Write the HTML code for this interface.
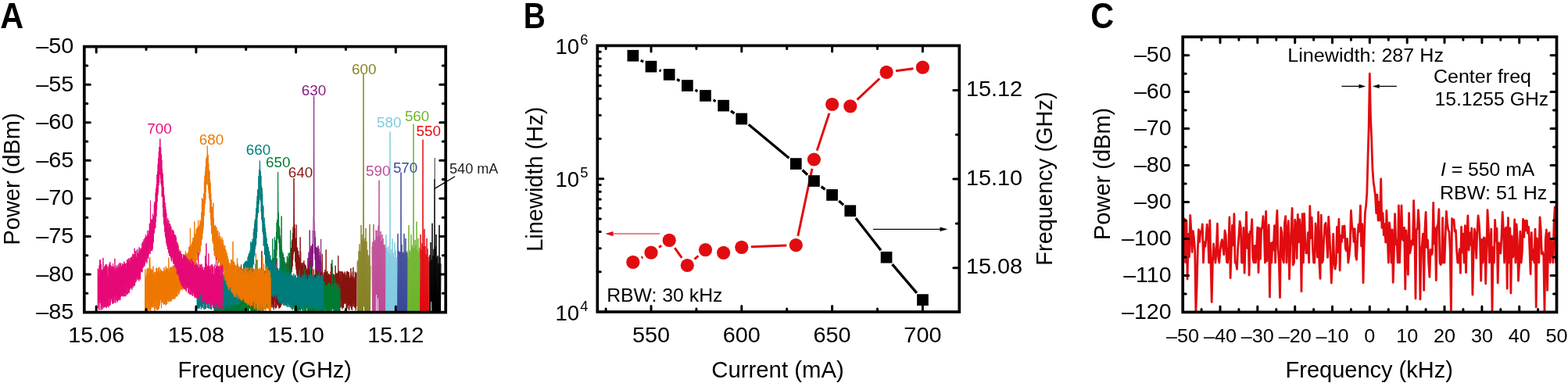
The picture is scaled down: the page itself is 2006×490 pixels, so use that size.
<!DOCTYPE html>
<html><head><meta charset="utf-8"><title>Figure</title>
<style>html,body{margin:0;padding:0;background:#fff;overflow:hidden;}svg{display:block;}text{font-family:'Liberation Sans', Arial, Helvetica, sans-serif;}</style>
</head><body>
<svg width="2006" height="490" viewBox="0 0 2006 490">
<rect width="2006" height="490" fill="#fff"/>
<clipPath id="ca"><rect x="107.8" y="59.6" width="462.40000000000003" height="340.0"/></clipPath>
<g clip-path="url(#ca)">
<polyline points="549,334.7 549.5,401.6 550,326.3 550.5,401.6 551,310 551.5,385.6 552,332.6 552.5,401.6 553,285.7 553.5,401.6 554,327.3 554.5,401.6 555,318.7 555.5,401.6 556,229 556.5,401.6 557,315.5 557.5,401.6 558,300 558.5,401.6 559,329.2 559.5,401.6 560,327.2 560.5,401.6 561,337.1 561.5,401.6 562,287.9 562.5,401.6 563,329.1 563.5,401.6 564,337.3" fill="none" stroke="#000000" stroke-width="1.0" stroke-linejoin="bevel"/>
<polyline points="537,316.9 537.5,401.6 538,300 538.5,401.6 539,319.2 539.5,401.6 540,311.2 540.5,401.6 541,178.6 541.5,401.6 542,315 542.5,401.6 543,292.9 543.5,401.6 544,315 544.5,401.6 545,325.1 545.5,401.6 546,305 546.5,401.6 547,318.2 547.5,401.6 548,328.6 548.5,401.6" fill="none" stroke="#E20A10" stroke-width="1.0" stroke-linejoin="bevel"/>
<polyline points="521,320.4 521.5,401.6 522,329.6 522.5,401.6 523,288 523.5,401.6 524,320.2 524.5,401.6 525,322.3 525.5,401.6 526,300 526.5,401.6 527,313.7 527.5,401.6 528,317 528.5,401.6 529,158.6 529.5,401.6 530,316.4 530.5,401.6 531,306.9 531.5,401.6 532,313.4 532.5,401.6 533,283.6 533.5,401.6 534,320.1 534.5,401.6 535,305 535.5,401.6 536,322.8 536.5,401.6 537,329.6" fill="none" stroke="#6EB52C" stroke-width="1.0" stroke-linejoin="bevel"/>
<polyline points="508,329.4 508.5,401.6 509,299 509.5,401.6 510,320.8 510.5,401.6 511,322.4 511.5,401.6 512,322.2 512.5,401.6 513,220.4 513.5,401.6 514,312.9 514.5,401.6 515,322.7 515.5,401.6 516,323.7 516.5,401.6 517,299 517.5,401.6 518,322.4 518.5,401.6 519,305 519.5,401.6 520,322.3 520.5,401.6 521,324" fill="none" stroke="#3C4A99" stroke-width="1.0" stroke-linejoin="bevel"/>
<polyline points="493,330.8 493.5,401.6 494,300 494.5,401.6 495,316.8 495.5,401.6 496,321.6 496.5,401.6 497,314.9 497.5,401.6 498,323.8 498.5,401.6 499,168.3 499.5,401.6 500,326.4 500.5,401.6 501,318.9 501.5,397.8 502,305 502.5,401.6 503,323 503.5,401.6 504,329.1 504.5,401.6 505,310 505.5,401.6 506,320.6 506.5,401.6 507,331.9 507.5,401.6 508,330.3" fill="none" stroke="#80CBE0" stroke-width="1.0" stroke-linejoin="bevel"/>
<polyline points="476,314.8 476.5,401.6 477,309.4 477.5,401.6 478,287 478.5,401.6 479,309.2 479.5,401.6 480,306.8 480.5,401.6 481,294.4 481.5,376.8 482,295 482.5,401.6 483,302.7 483.5,381.4 484,288.8 484.5,401.6 485,230.7 485.5,401.6 486,301.5 486.5,401.6 487,296 487.5,401.6 488,308.1 488.5,401.6 489,300.1 489.5,401.6 490,305 490.5,401.6 491,312.9 491.5,401.6 492,312.9 492.5,401.6 493,316.3" fill="none" stroke="#BE4C96" stroke-width="1.0" stroke-linejoin="bevel"/>
<polyline points="457,334.7 457.5,401.6 458,332.8 458.5,401.6 459,321.1 459.5,401.6 460,312.4 460.5,401.6 461,321.2 461.5,401.6 462,287.9 462.5,401.6 463,300 463.5,401.6 464,306.4 464.5,401.6 465,94.3 465.5,392.2 466,308.3 466.5,401.6 467,304.9 467.5,401.6 468,292 468.5,401.6 469,309 469.5,401.6 470,319.8 470.5,401.6 471,326.4 471.5,401.6 472,328.4 472.5,401.6 473,286.9 473.5,401.6 474,340.1" fill="none" stroke="#878226" stroke-width="1.0" stroke-linejoin="bevel"/>
<polyline points="393.5,364.4 393.8,330.2 394.1,368.2 394.4,335.8 394.7,361.3 395,322.6 395.3,357.6 395.6,328.2 395.9,365.5 396.2,294.4 396.5,359.2 396.8,319 397.1,360.3 397.4,318.1 397.7,352.6 398,314.5 398.3,357.1 398.6,315.4 398.9,356.5 399.2,313.9 399.5,355.9 399.8,312.2 400.1,340.7 400.4,295 400.7,324.4 401,280 401.3,273.4 401.6,122.9 401.9,278.8 402.2,285 402.5,324.5 402.8,295.6 403.1,332.4 403.4,303.4 403.7,348.9 404,315.7 404.3,352.5 404.6,316 404.9,355.7 405.2,317 405.5,346.4 405.8,318.5 406.1,354.4 406.4,316.4 406.7,360.5 407,314.4 407.3,357.2 407.6,328.6 407.9,355.9 408.2,318.1 408.5,361.1 408.8,322 409.1,356.1 409.4,332.8 409.7,366.5 410,326.7 410.3,363.7 410.6,305.9 410.9,361.7 411.2,335.2" fill="none" stroke="#871982" stroke-width="1.0" stroke-linejoin="bevel"/>
<polyline points="295,391.9 295.3,348.9 295.6,390.8 295.9,356.5 296.2,393.2 296.5,350.6 296.8,396.2 297.1,357.8 297.4,397.8 297.7,349.4 298,383.2 298.3,351.8 298.6,388.9 298.9,355 299.2,393.8 299.5,352.6 299.8,394.3 300.1,347.9 300.4,391.8 300.7,356.1 301,396.1 301.3,348.7 301.6,397.8 301.9,349.1 302.2,387.5 302.5,348.7 302.8,395.8 303.1,349.1 303.4,393.5 303.7,355.4 304,396.9 304.3,350.6 304.6,396.7 304.9,355.7 305.2,389.3 305.5,344.6 305.8,385.1 306.1,348.5 306.4,389.3 306.7,351 307,393.5 307.3,353.8 307.6,390 307.9,349.5 308.2,397.5 308.5,338.6 308.8,395.2 309.1,350 309.4,394.6 309.7,351.2 310,397.4 310.3,354.2 310.6,390.8 310.9,348.3 311.2,397.6 311.5,351.9 311.8,396.6 312.1,349.6 312.4,397.5 312.7,348.1 313,397.2 313.3,351.6 313.6,393.5 313.9,350 314.2,395.1 314.5,352.2 314.8,391.6 315.1,348.3 315.4,396.5 315.7,357.3 316,393 316.3,348.9 316.6,396.9 316.9,347.9 317.2,390.8 317.5,348.3 317.8,395.5 318.1,353.2 318.4,390.2 318.7,355.3 319,387.2 319.3,349.7 319.6,391.7 319.9,349.7 320.2,387.3 320.5,330.2 320.8,395.4 321.1,348.9 321.4,394.7 321.7,351.7 322,389.8 322.3,347.8 322.6,388.8 322.9,351 323.2,388.3 323.5,356.8 323.8,395.3 324.1,348.1 324.4,393.2 324.7,343.9 325,396.4 325.3,350.7 325.6,395.8 325.9,353.4 326.2,388.8 326.5,355 326.8,382.8 327.1,337.8 327.4,395.6 327.7,347.8 328,386.1 328.3,349.1 328.6,395.7 328.9,349.4 329.2,393.4 329.5,351 329.8,395 330.1,353.9 330.4,395.4 330.7,354.8 331,385 331.3,347.5 331.6,387.1 331.9,354.6 332.2,385.9 332.5,361 332.8,387.9 333.1,347.5 333.4,394.9 333.7,351.7 334,382.5 334.3,344.4 334.6,393 334.9,321.2 335.2,393.2 335.5,357.2 335.8,386.4 336.1,348.2 336.4,389.7 336.7,355.3 337,392.1 337.3,353.4 337.6,390.4 337.9,348.1 338.2,392.7 338.5,346.8 338.8,387 339.1,352.8 339.4,396 339.7,351.1 340,395.2 340.3,351.1 340.6,391.9 340.9,347.4 341.2,390.8 341.5,350 341.8,393.4 342.1,358.3 342.4,386.9 342.7,353.5 343,381.3 343.3,348.7 343.6,393.5 343.9,352 344.2,391.9 344.5,358.3 344.8,391.7 345.1,347.5 345.4,384.5 345.7,348.9 346,394.3 346.3,353.6 346.6,390.3 346.9,354.3 347.2,393.2 347.5,351.5 347.8,387.4 348.1,352.5 348.4,389.5 348.7,346.4 349,393.5 349.3,350.3 349.6,392.4 349.9,349.3 350.2,396.1 350.5,351.2 350.8,385.2 351.1,354 351.4,381.9 351.7,353.7 352,393.3 352.3,352.8 352.6,395.1 352.9,346.4 353.2,387 353.5,347.4 353.8,393.7 354.1,330.4 354.4,388.3 354.7,347.6 355,390.4 355.3,353.6 355.6,389.4 355.9,346.4 356.2,391.9 356.5,350.1 356.8,394.5 357.1,346.1 357.4,394.1 357.7,357.5 358,394.1 358.3,303.9 358.6,392.9 358.9,345 359.2,392.3 359.5,343.9 359.8,389.9 360.1,351.6 360.4,389.6 360.7,354.1 361,385.9 361.3,347.9 361.6,384.6 361.9,342.5 362.2,389.3 362.5,341.4 362.8,386.8 363.1,340.8 363.4,380 363.7,345.1 364,386.9 364.3,334.8 364.6,383.9 364.9,340.2 365.2,380.1 365.5,339.2 365.8,384.8 366.1,347.9 366.4,380.9 366.7,336.6 367,377.2 367.3,347.5 367.6,373.8 367.9,335.8 368.2,370.4 368.5,341.7 368.8,369.2 369.1,330.6 369.4,375.2 369.7,336.2 370,370.3 370.3,328 370.6,360.1 370.9,323.4 371.2,364.3 371.5,321.3 371.8,358.4 372.1,317.3 372.4,356.9 372.7,318.2 373,348.1 373.3,308.7 373.6,344.5 373.9,306.4 374.2,340.7 374.5,298 374.8,332.5 375.1,290.4 375.4,325.1 375.7,283.8 376,228 376.3,256.2 376.6,322.2 376.9,287 377.2,320.6 377.5,292.4 377.8,335.3 378.1,306.3 378.4,340.9 378.7,304.8 379,345.2 379.3,287.6 379.6,349.7 379.9,318.2 380.2,352.3 380.5,316.7 380.8,358.7 381.1,320.6 381.4,363.7 381.7,321.5 382,367.8 382.3,326.2 382.6,364.5 382.9,335.8 383.2,370 383.5,329.9 383.8,360 384.1,303.4 384.4,376.7 384.7,322.1 385,378.2 385.3,337 385.6,376.3 385.9,336.1 386.2,377.7 386.5,339.3 386.8,379.1 387.1,337.1 387.4,378.6 387.7,335.9 388,384 388.3,348.2 388.6,380.6 388.9,333.5 389.2,381.2 389.5,337.4 389.8,380.7 390.1,338.5 390.4,381.9 390.7,339.2 391,378.5 391.3,340.1 391.6,387.7 391.9,342.9 392.2,383.5 392.5,345.2 392.8,381.2 393.1,347.2 393.4,387.2 393.7,345.1 394,387.5 394.3,343 394.6,385 394.9,344.2 395.2,392.1 395.5,348.7 395.8,382.6 396.1,345.2 396.4,392.2 396.7,348 397,393.6 397.3,333.8 397.6,392.2 397.9,346.6 398.2,389.2 398.5,345.6 398.8,384.6 399.1,350.1 399.4,390.4 399.7,344.4 400,392.6 400.3,355.4 400.6,391.6 400.9,353 401.2,389.4 401.5,344.5 401.8,387.9 402.1,353.9 402.4,393.9 402.7,351.7 403,391.4 403.3,351 403.6,394.1 403.9,346.1 404.2,393.1 404.5,354.1 404.8,389.3 405.1,345.4 405.4,388.4 405.7,354 406,393.6 406.3,351 406.6,391.7 406.9,348.2 407.2,385.5 407.5,348.5 407.8,392.1 408.1,346.2 408.4,394.3 408.7,348.3 409,392.6 409.3,350.6 409.6,394.1 409.9,350.2 410.2,382.8 410.5,352.2 410.8,386.2 411.1,347.4 411.4,386.6 411.7,349.1 412,389.3 412.3,324.9 412.6,388.8 412.9,351.9 413.2,388.8 413.5,352.7 413.8,392.6 414.1,348.6 414.4,392.9 414.7,354.3 415,393.8 415.3,348.5 415.6,394.9 415.9,345.2 416.2,381.6 416.5,348 416.8,388.5 417.1,319.5 417.4,386.4 417.7,348.4 418,393.7 418.3,348.4 418.6,389.3 418.9,347 419.2,394.9 419.5,351.7 419.8,385.9 420.1,350.2 420.4,390.7 420.7,350.3 421,395.1 421.3,351.4 421.6,384.4 421.9,359 422.2,391.5 422.5,351.9 422.8,391.6 423.1,347.6 423.4,389.8 423.7,337.2 424,395 424.3,353.4 424.6,389.7 424.9,341 425.2,392.9 425.5,352.6 425.8,394 426.1,350.2 426.4,394.6 426.7,351.3 427,394.3 427.3,356.3 427.6,390.5 427.9,351.5 428.2,391.1 428.5,353.1 428.8,389.7 429.1,339.7 429.4,385.7 429.7,349.7 430,395.3 430.3,350.1 430.6,391.6 430.9,349.5 431.2,387.1 431.5,350.3 431.8,394 432.1,348.9 432.4,389 432.7,327 433,396 433.3,348 433.6,394.8 433.9,346.5 434.2,392.8 434.5,354.4 434.8,392.2 435.1,347.6 435.4,393.9 435.7,347.3 436,392.5 436.3,360.8 436.6,384.1 436.9,347.6 437.2,392.9 437.5,346.9 437.8,395.4 438.1,348.9 438.4,393.5 438.7,347.9 439,388.4 439.3,350 439.6,394 439.9,350 440.2,388.3 440.5,352.2 440.8,387.7 441.1,347.6 441.4,388.7 441.7,349.1 442,388.5 442.3,355.6 442.6,384.9 442.9,351.5 443.2,395.6 443.5,347.3 443.8,393.3 444.1,347.6 444.4,394.3 444.7,347 445,389.4 445.3,353.4 445.6,390.4 445.9,348 446.2,396.4 446.5,348.4 446.8,396.6 447.1,361.3 447.4,388.7 447.7,355.4 448,391.3 448.3,352.1 448.6,392.2 448.9,343.2 449.2,393.5 449.5,349.4 449.8,395.8 450.1,355.5 450.4,397 450.7,353.7 451,392.5 451.3,347.8 451.6,388.7 451.9,341.9 452.2,391.8 452.5,357.2 452.8,385.6 453.1,354.6 453.4,393.6 453.7,358.8 454,389.7 454.3,347.7 454.6,393.4 454.9,353.7 455.2,397.2 455.5,349.3 455.8,392 456.1,348.4" fill="none" stroke="#87140F" stroke-width="1.0" stroke-linejoin="bevel"/>
<polyline points="274,401.6 274.3,363.3 274.6,401.6 274.9,368 275.2,396 275.5,362.7 275.8,401.6 276.1,375.3 276.4,401.6 276.7,362.5 277,399.4 277.3,355.5 277.6,396 277.9,366 278.2,401.6 278.5,334.4 278.8,401.6 279.1,370 279.4,401.6 279.7,365.4 280,398.8 280.3,363.4 280.6,401.6 280.9,365 281.2,401.6 281.5,362.1 281.8,394 282.1,364.4 282.4,401.6 282.7,369.8 283,398.4 283.3,364.7 283.6,401.6 283.9,364.7 284.2,401.6 284.5,371.4 284.8,401.6 285.1,366.7 285.4,395.4 285.7,362 286,401.6 286.3,365.3 286.6,401.6 286.9,365.1 287.2,396.5 287.5,356.9 287.8,401.6 288.1,363 288.4,401.4 288.7,361.9 289,401.6 289.3,362.2 289.6,399.8 289.9,367 290.2,401.2 290.5,363.5 290.8,397 291.1,364.1 291.4,400.3 291.7,374.7 292,400.1 292.3,355.7 292.6,401.6 292.9,370.8 293.2,401.6 293.5,361.7 293.8,401.5 294.1,367.8 294.4,401.6 294.7,368.2 295,399 295.3,363 295.6,400 295.9,364.6 296.2,398.8 296.5,371.2 296.8,399.3 297.1,361.9 297.4,401.6 297.7,369.7 298,401 298.3,357.1 298.6,399.6 298.9,360.9 299.2,401.6 299.5,363.9 299.8,400.5 300.1,361.2 300.4,399.3 300.7,345.6 301,401.6 301.3,362.2 301.6,400 301.9,362.5 302.2,401.6 302.5,359.8 302.8,401.6 303.1,363.9 303.4,400.6 303.7,364 304,399.2 304.3,361.9 304.6,399.3 304.9,367.2 305.2,401.6 305.5,364.5 305.8,400.8 306.1,360.4 306.4,401.3 306.7,363.3 307,398 307.3,361.9 307.6,401.6 307.9,361.9 308.2,401.6 308.5,363.7 308.8,398.3 309.1,364.7 309.4,399.9 309.7,360.6 310,399.7 310.3,366.9 310.6,400.3 310.9,365.7 311.2,401 311.5,364.7 311.8,401.6 312.1,363.7 312.4,400.6 312.7,356.2 313,399.1 313.3,359.9 313.6,393 313.9,361.2 314.2,397.5 314.5,343.2 314.8,396.2 315.1,361.1 315.4,401.6 315.7,360.9 316,397.6 316.3,362.9 316.6,395 316.9,363.5 317.2,397.2 317.5,370.2 317.8,397.6 318.1,359.8 318.4,399.9 318.7,362.3 319,394.8 319.3,359.9 319.6,394.2 319.9,369.7 320.2,394.7 320.5,360.7 320.8,401.6 321.1,367.8 321.4,400.6 321.7,361.1 322,399.7 322.3,372.2 322.6,400.9 322.9,363 323.2,401.6 323.5,359.1 323.8,400.5 324.1,367.1 324.4,397.6 324.7,361.3 325,401.6 325.3,362.9 325.6,398 325.9,361.3 326.2,401.6 326.5,365.5 326.8,400 327.1,361.2 327.4,399 327.7,363.4 328,401.6 328.3,359.8 328.6,395.2 328.9,332.4 329.2,396.7 329.5,362.6 329.8,395.2 330.1,363.4 330.4,400.5 330.7,360.1 331,401.4 331.3,359.6 331.6,397.3 331.9,361.5 332.2,400.8 332.5,360.8 332.8,399.6 333.1,359.5 333.4,401.6 333.7,349.7 334,396.6 334.3,366.4 334.6,396.8 334.9,327 335.2,397.1 335.5,359.7 335.8,399.3 336.1,357.4 336.4,392.9 336.7,357.2 337,389.9 337.3,357.5 337.6,396.3 337.9,360.2 338.2,392.6 338.5,353.7 338.8,394.1 339.1,355.8 339.4,392.8 339.7,360 340,392.5 340.3,348.7 340.6,390.5 340.9,352.3 341.2,391.3 341.5,351.1 341.8,386 342.1,353.4 342.4,386.4 342.7,345.7 343,388.1 343.3,346.5 343.6,383.7 343.9,346.9 344.2,385.8 344.5,346 344.8,382.2 345.1,347.9 345.4,386.5 345.7,341.7 346,385.5 346.3,342.9 346.6,380.6 346.9,336.9 347.2,378.7 347.5,333.5 347.8,366.9 348.1,332.4 348.4,368.2 348.7,305.5 349,369.3 349.3,330.2 349.6,369.7 349.9,332.3 350.2,356.1 350.5,319.5 350.8,358.2 351.1,319.2 351.4,349.6 351.7,314.2 352,350.3 352.3,307.5 352.6,343.4 352.9,308.2 353.2,337.1 353.5,297.1 353.8,327.7 354.1,284.7 354.4,319.8 354.7,281.2 355,305.1 355.3,259.5 355.6,220.2 355.9,259.1 356.2,306.5 356.5,271.8 356.8,311 357.1,289.4 357.4,318.7 357.7,292.4 358,329.1 358.3,301.5 358.6,340.3 358.9,305.7 359.2,343.6 359.5,314 359.8,351.2 360.1,276.5 360.4,353.7 360.7,319.3 361,360.8 361.3,325.8 361.6,364.5 361.9,322.9 362.2,362 362.5,325.6 362.8,368.1 363.1,338.5 363.4,370.3 363.7,329.1 364,374.5 364.3,339 364.6,372.5 364.9,335.3 365.2,370.2 365.5,338.1 365.8,380.9 366.1,339.9 366.4,380.9 366.7,342.4 367,377.1 367.3,327.9 367.6,382.9 367.9,343.2 368.2,379.2 368.5,343 368.8,387.2 369.1,323.7 369.4,389.5 369.7,345.3 370,387.3 370.3,349 370.6,391 370.9,357.1 371.2,392.7 371.5,294.6 371.8,384.7 372.1,349.6 372.4,389.3 372.7,351.6 373,395.2 373.3,358.8 373.6,392 373.9,353.1 374.2,396.6 374.5,354.8 374.8,392.7 375.1,355.5 375.4,389.4 375.7,361.9 376,394.3 376.3,360.1 376.6,396.7 376.9,367 377.2,400.2 377.5,359.8 377.8,399 378.1,359.5 378.4,392.4 378.7,360.2 379,387.8 379.3,361.8 379.6,398.2 379.9,356.3 380.2,400 380.5,358.9 380.8,389.4 381.1,360.6 381.4,400 381.7,362.5 382,392.5 382.3,362.3 382.6,397.2 382.9,361.1 383.2,394.7 383.5,360.5 383.8,397.2 384.1,358.7 384.4,400.7 384.7,359.2 385,391.7 385.3,364.4 385.6,395.5 385.9,357.4 386.2,391.4 386.5,359.3 386.8,396.7 387.1,359.2 387.4,398.7 387.7,358.6 388,399.6 388.3,363.6 388.6,394.2 388.9,364 389.2,394.7 389.5,357.3 389.8,397.9 390.1,344.4 390.4,398.7 390.7,357.6 391,399.9 391.3,366.2 391.6,400.8 391.9,359.4 392.2,394.2 392.5,363.6 392.8,391.5 393.1,363.1 393.4,397.7 393.7,366 394,401.1 394.3,361.7 394.6,398.3 394.9,362.9 395.2,400.8 395.5,358.7 395.8,397.9 396.1,371.8 396.4,399.3 396.7,362.8 397,393.8 397.3,340.7 397.6,399.9 397.9,360.1 398.2,393 398.5,358.6 398.8,398.1 399.1,358.7 399.4,397.6 399.7,358.8 400,400.7 400.3,368.7 400.6,401 400.9,360.3 401.2,399 401.5,371.6 401.8,399.4 402.1,360.6 402.4,401 402.7,362.7 403,392.4 403.3,360.1 403.6,397.3 403.9,363.5 404.2,399.9 404.5,368.9 404.8,391.2 405.1,358.8 405.4,401.2 405.7,359.9 406,398.5 406.3,363.1 406.6,395.2 406.9,364.2 407.2,400.8 407.5,364.7 407.8,400.6 408.1,347.4 408.4,396.2 408.7,360 409,397.7 409.3,365.5 409.6,400.9 409.9,368.2 410.2,399.8 410.5,361.9 410.8,399.1 411.1,365.1 411.4,400.1 411.7,360.9 412,399.6 412.3,361.9 412.6,399.4 412.9,363.2 413.2,399.7 413.5,362.5 413.8,397 414.1,360.3 414.4,397.7 414.7,367.8 415,400.2 415.3,360.4 415.6,394.5 415.9,370.3 416.2,397.6 416.5,365.2 416.8,395.4 417.1,365.1 417.4,398.7 417.7,365.9 418,399.6 418.3,363.9 418.6,398.5 418.9,367.9 419.2,401.3 419.5,362.2 419.8,399.9 420.1,365 420.4,401.6 420.7,361.6 421,401.6 421.3,362.8 421.6,400.5 421.9,362 422.2,397.5 422.5,365.9 422.8,401.6 423.1,365.2 423.4,392.3 423.7,363.8 424,401.6 424.3,364.2 424.6,400.3 424.9,332.5 425.2,395.8 425.5,367.1 425.8,391.8 426.1,365 426.4,395.5 426.7,363.2 427,398.4 427.3,361.4 427.6,401.6 427.9,354.6 428.2,401.6 428.5,365.2 428.8,400.4 429.1,362.9 429.4,401.6 429.7,361.1 430,398.6 430.3,367 430.6,397.9 430.9,366.5 431.2,401.6 431.5,363.2 431.8,395.6 432.1,362.7 432.4,401.4 432.7,364.3 433,401.6 433.3,370.1 433.6,401.6 433.9,370.5 434.2,401.6 434.5,364.1 434.8,401.6 435.1,368.5" fill="none" stroke="#007C34" stroke-width="1.0" stroke-linejoin="bevel"/>
<polyline points="252,395.2 252.3,355.7 252.6,394.4 252.9,341 253.2,393.9 253.5,353.9 253.8,394.8 254.1,352.7 254.4,392.5 254.7,353.7 255,394.6 255.3,360.7 255.6,393.9 255.9,352.5 256.2,391.8 256.5,354.2 256.8,389.7 257.1,353 257.4,396 257.7,356.3 258,392.4 258.3,351.4 258.6,393.1 258.9,354.9 259.2,394 259.5,357.5 259.8,388.5 260.1,346.1 260.4,388.5 260.7,362 261,395.6 261.3,352.2 261.6,395.9 261.9,352.1 262.2,395.6 262.5,355.6 262.8,394.5 263.1,341.7 263.4,395 263.7,352.2 264,389 264.3,357.7 264.6,388.6 264.9,351.6 265.2,393.9 265.5,356.3 265.8,393.8 266.1,352.5 266.4,394 266.7,350.5 267,395 267.3,354.6 267.6,385.5 267.9,356.9 268.2,386.4 268.5,351.7 268.8,394.7 269.1,357.1 269.4,395.6 269.7,355.6 270,392.2 270.3,353.2 270.6,395.9 270.9,351 271.2,388 271.5,351 271.8,389.1 272.1,351.5 272.4,393.8 272.7,358 273,385.6 273.3,350.7 273.6,382.4 273.9,358.1 274.2,395.7 274.5,352.2 274.8,392.9 275.1,354.1 275.4,393 275.7,354 276,386 276.3,356.6 276.6,390.5 276.9,353.7 277.2,391.3 277.5,345.5 277.8,394.6 278.1,351.5 278.4,392 278.7,354.6 279,384.1 279.3,355 279.6,394.5 279.9,355 280.2,390.1 280.5,357.6 280.8,393.4 281.1,353.5 281.4,385.2 281.7,356.3 282,386.2 282.3,357.7 282.6,389.6 282.9,359.5 283.2,395.6 283.5,352.3 283.8,387.2 284.1,353.2 284.4,391.2 284.7,356.9 285,391.4 285.3,352.8 285.6,386.8 285.9,350.1 286.2,392.1 286.5,359.3 286.8,393.6 287.1,350.1 287.4,383.4 287.7,351.8 288,394.6 288.3,353.8 288.6,386.1 288.9,351.3 289.2,390.5 289.5,355.2 289.8,394.2 290.1,363.3 290.4,389.3 290.7,350.3 291,387.9 291.3,359.4 291.6,386.5 291.9,353 292.2,390.9 292.5,353 292.8,394.8 293.1,355.6 293.4,393.7 293.7,351.8 294,392.4 294.3,360.3 294.6,384 294.9,356.3 295.2,390.2 295.5,353 295.8,388.4 296.1,348.7 296.4,390.8 296.7,352.7 297,390.8 297.3,348.1 297.6,386.1 297.9,351.5 298.2,386.1 298.5,350.1 298.8,384.4 299.1,351.6 299.4,392.3 299.7,346.7 300,379.5 300.3,350.9 300.6,390.6 300.9,346.6 301.2,386.1 301.5,347.5 301.8,389.8 302.1,349.5 302.4,382.4 302.7,346.1 303,389 303.3,347.4 303.6,389.1 303.9,336.8 304.2,383.5 304.5,357.3 304.8,387.5 305.1,350.7 305.4,388.9 305.7,344.7 306,385.7 306.3,344.2 306.6,388.9 306.9,344.3 307.2,382.9 307.5,346.1 307.8,378.8 308.1,343.8 308.4,382.3 308.7,348.7 309,380.3 309.3,345.2 309.6,384.9 309.9,351.1 310.2,377.6 310.5,344.2 310.8,383.4 311.1,346.1 311.4,383.6 311.7,337.7 312,378.6 312.3,338.1 312.6,380.1 312.9,336.1 313.2,375 313.5,334.6 313.8,378.8 314.1,342.2 314.4,367.1 314.7,334.6 315,378 315.3,333.6 315.6,377.1 315.9,345.1 316.2,377.1 316.5,334.5 316.8,371.6 317.1,328.9 317.4,371.1 317.7,327.1 318,362.7 318.3,324.2 318.6,367.4 318.9,333.8 319.2,365 319.5,321.8 319.8,362.5 320.1,320.4 320.4,357 320.7,309.1 321,358 321.3,323.4 321.6,352.5 321.9,310.6 322.2,354.5 322.5,309.9 322.8,347 323.1,305.8 323.4,349.4 323.7,309.2 324,335.6 324.3,297.1 324.6,338.4 324.9,292.4 325.2,328.5 325.5,286.6 325.8,326.6 326.1,282.1 326.4,318.4 326.7,280.1 327,314.8 327.3,274.4 327.6,312.8 327.9,265.8 328.2,304.6 328.5,257.7 328.8,296.8 329.1,251.1 329.4,278.3 329.7,242.5 330,273 330.3,243.2 330.6,272.1 330.9,225.5 331.2,261.5 331.5,217.4 331.8,253.7 332.1,214.8 332.4,205.6 332.7,211.9 333,255.8 333.3,218.8 333.6,258.4 333.9,224.8 334.2,271.1 334.5,238.1 334.8,280.9 335.1,240.4 335.4,284.1 335.7,248.3 336,296.5 336.3,262.2 336.6,299.9 336.9,264.3 337.2,314.5 337.5,281.8 337.8,314.2 338.1,278.3 338.4,326 338.7,286.6 339,323.9 339.3,291.7 339.6,336.7 339.9,296.9 340.2,343.3 340.5,301.9 340.8,347.3 341.1,304.8 341.4,352.8 341.7,312 342,356.2 342.3,312.3 342.6,357 342.9,318.2 343.2,357.4 343.5,316.1 343.8,362.7 344.1,320.8 344.4,363.7 344.7,322.4 345,369.1 345.3,330 345.6,367.7 345.9,326.6 346.2,366.1 346.5,331.2 346.8,366.8 347.1,336.8 347.4,373 347.7,334.3 348,376.8 348.3,333.7 348.6,378.2 348.9,337.1 349.2,380.1 349.5,335.7 349.8,375.4 350.1,334.6 350.4,379.4 350.7,334.9 351,376.4 351.3,303.3 351.6,378.1 351.9,345.4 352.2,371.4 352.5,340.5 352.8,381.4 353.1,343.6 353.4,376.3 353.7,342.4 354,377.9 354.3,349.4 354.6,377.9 354.9,347.7 355.2,382.1 355.5,343 355.8,384.6 356.1,345.8 356.4,382.6 356.7,347.6 357,387.4 357.3,343.3 357.6,385 357.9,345.5 358.2,383.7 358.5,345.5 358.8,388.8 359.1,330.3 359.4,387 359.7,349.2 360,388.6 360.3,350.3 360.6,383.9 360.9,348.9 361.2,387.4 361.5,347.7 361.8,387.3 362.1,347.7 362.4,378.5 362.7,345.8 363,391 363.3,359.2 363.6,384.7 363.9,349.5 364.2,390.7 364.5,353.7 364.8,388.8 365.1,339.9 365.4,390.8 365.7,349.9 366,387.7 366.3,351.4 366.6,391.2 366.9,351.3 367.2,392.6 367.5,349.7 367.8,388 368.1,351.2 368.4,384.3 368.7,346.7 369,393 369.3,353.5 369.6,388.9 369.9,353.4 370.2,390.4 370.5,350.2 370.8,392.3 371.1,349.8 371.4,391.9 371.7,350.7 372,393.9 372.3,356.4 372.6,387.4 372.9,355.9 373.2,391.4 373.5,361.3 373.8,387.6 374.1,352.1 374.4,391.1 374.7,353.1 375,392.6 375.3,353.4 375.6,387.4 375.9,350.2 376.2,395.2 376.5,356.2 376.8,391.6 377.1,352.8 377.4,393.8 377.7,352.6 378,394.3 378.3,351.7 378.6,388.5 378.9,355.7 379.2,392.1 379.5,355 379.8,391.2 380.1,355 380.4,395.3 380.7,355.7 381,392.8 381.3,354.4 381.6,388.7 381.9,352.5 382.2,386.1 382.5,351.5 382.8,390.7 383.1,344.9 383.4,386.5 383.7,355.4 384,394.7 384.3,357.3 384.6,394.2 384.9,354.2 385.2,394.2 385.5,357.2 385.8,395.1 386.1,354.7 386.4,388.3 386.7,350.7 387,393.5 387.3,354.3 387.6,395.6 387.9,358.3 388.2,392.2 388.5,352.3 388.8,393.4 389.1,350.5 389.4,388.3 389.7,352.1 390,387.8 390.3,356.5 390.6,395 390.9,356.7 391.2,388.3 391.5,363.7 391.8,392.4 392.1,351.4 392.4,389.2 392.7,362.2 393,390.3 393.3,357.3 393.6,385 393.9,361.6 394.2,392.3 394.5,353.7 394.8,389.1 395.1,352.3 395.4,394.9 395.7,353.2 396,386.4 396.3,351.1 396.6,394.4 396.9,355.2 397.2,394.1 397.5,356.6 397.8,388.5 398.1,351 398.4,395.2 398.7,355.7 399,394.5 399.3,359.6 399.6,390.8 399.9,352 400.2,389.3 400.5,361.5 400.8,393.7 401.1,351.4 401.4,393.8 401.7,350.6 402,388.4 402.3,356.3 402.6,394 402.9,355.5 403.2,394.8 403.5,356.3 403.8,395.2 404.1,356.6 404.4,392.5 404.7,354.8 405,395.2 405.3,352.7 405.6,391.2 405.9,352.5 406.2,385.7 406.5,352.9 406.8,395.6 407.1,352.4 407.4,394.4 407.7,359.3 408,390.2 408.3,351.1 408.6,387.7 408.9,356.8 409.2,394.4 409.5,355 409.8,395.9 410.1,352.5 410.4,395 410.7,355.4 411,395.8 411.3,351.9 411.6,395 411.9,351.2 412.2,395.5 412.5,355.5 412.8,395.3 413.1,353.9 413.4,386.8" fill="none" stroke="#007D7D" stroke-width="1.0" stroke-linejoin="bevel"/>
<polyline points="185.5,400.7 185.8,344.7 186.1,396.5 186.4,357.1 186.7,399.1 187,353.4 187.3,400.4 187.6,349.6 187.9,397.5 188.2,343.3 188.5,400.5 188.8,344.3 189.1,398.2 189.4,343.5 189.7,386.3 190,343.8 190.3,395.9 190.6,351.2 190.9,397.4 191.2,330.7 191.5,394.7 191.8,329.2 192.1,396.3 192.4,343.1 192.7,399 193,344.5 193.3,394.6 193.6,346.2 193.9,392.7 194.2,344.3 194.5,392.7 194.8,345.3 195.1,388.1 195.4,350.4 195.7,393.8 196,340.6 196.3,392.2 196.6,351.2 196.9,386 197.2,348.8 197.5,394.7 197.8,347.8 198.1,398.4 198.4,353.8 198.7,395.9 199,348.5 199.3,384.5 199.6,344.1 199.9,393.4 200.2,342.5 200.5,396.6 200.8,343.2 201.1,394.4 201.4,348.3 201.7,396.4 202,347.3 202.3,396.2 202.6,342.7 202.9,390.9 203.2,344 203.5,395 203.8,341.9 204.1,391.4 204.4,349.9 204.7,388.5 205,347.1 205.3,383.9 205.6,343.9 205.9,383 206.2,345.9 206.5,394.4 206.8,346.5 207.1,386.3 207.4,346.4 207.7,386.8 208,349.2 208.3,386.5 208.6,347.4 208.9,388.6 209.2,347.6 209.5,389.9 209.8,342 210.1,379.1 210.4,345.2 210.7,389 211,345 211.3,389 211.6,348.4 211.9,390.6 212.2,340.8 212.5,389.5 212.8,343.7 213.1,389.2 213.4,342.9 213.7,389 214,344.3 214.3,383.4 214.6,343.6 214.9,385.4 215.2,347.5 215.5,386.5 215.8,329.8 216.1,382.1 216.4,348.1 216.7,385.1 217,344.1 217.3,385.8 217.6,341.7 217.9,374.8 218.2,346.9 218.5,386 218.8,342 219.1,385.2 219.4,341.4 219.7,383.4 220,345 220.3,380 220.6,342.1 220.9,382.8 221.2,339.5 221.5,382.2 221.8,341.3 222.1,371.8 222.4,340.1 222.7,382.8 223,339.6 223.3,379.6 223.6,341.8 223.9,382.2 224.2,341.8 224.5,380.3 224.8,339.1 225.1,378.2 225.4,346.6 225.7,379.3 226,338.4 226.3,379.5 226.6,334.2 226.9,378.7 227.2,335.3 227.5,371.4 227.8,311.7 228.1,373.4 228.4,339.5 228.7,377.1 229,335.6 229.3,375 229.6,338.6 229.9,373.4 230.2,339.4 230.5,369.6 230.8,331 231.1,370.9 231.4,320.8 231.7,371 232,332 232.3,369.7 232.6,332.5 232.9,369.7 233.2,332.8 233.5,371.1 233.8,332.7 234.1,369.7 234.4,330.4 234.7,367.6 235,332.8 235.3,369.5 235.6,329.5 235.9,369 236.2,331.1 236.5,363.3 236.8,325.4 237.1,364.8 237.4,321.1 237.7,357.4 238,325.6 238.3,363.3 238.6,324.1 238.9,362.7 239.2,324.6 239.5,364.8 239.8,326.5 240.1,358.9 240.4,322.8 240.7,363.1 241,323.8 241.3,355.6 241.6,315.9 241.9,357.4 242.2,318.7 242.5,356 242.8,315 243.1,356.5 243.4,292 243.7,351.8 244,313.1 244.3,352.6 244.6,316.2 244.9,350.3 245.2,312.3 245.5,352 245.8,309.5 246.1,349.5 246.4,309 246.7,348.1 247,304.3 247.3,340 247.6,304.8 247.9,343.6 248.2,303.8 248.5,343.5 248.8,283.4 249.1,342 249.4,298.8 249.7,339.2 250,302.8 250.3,334.7 250.6,299.3 250.9,337.9 251.2,293.9 251.5,324.2 251.8,292.1 252.1,333 252.4,290.8 252.7,329.1 253,295.8 253.3,329.3 253.6,281.6 253.9,327.6 254.2,289.3 254.5,320.1 254.8,289.5 255.1,325.9 255.4,287.1 255.7,323.6 256,281.9 256.3,322 256.6,285.3 256.9,314.3 257.2,281.7 257.5,313.8 257.8,271.7 258.1,306.6 258.4,253.1 258.7,305.3 259,262.4 259.3,298.5 259.6,255.3 259.9,293.6 260.2,253.8 260.5,289.1 260.8,247.6 261.1,276.2 261.4,232.3 261.7,267.6 262,224.8 262.3,260.4 262.6,219.4 262.9,255.7 263.2,213.1 263.5,245.5 263.8,203 264.1,231.5 264.4,200.5 264.7,235.6 265,195.8 265.3,186.5 265.6,192.2 265.9,237.2 266.2,198.2 266.5,242.6 266.8,209 267.1,247.1 267.4,217.3 267.7,253.5 268,218.8 268.3,256.3 268.6,229.6 268.9,272.1 269.2,234.1 269.5,280.2 269.8,247.2 270.1,288.6 270.4,254.9 270.7,299.1 271,265.3 271.3,298.9 271.6,264.5 271.9,308.8 272.2,269.3 272.5,312 272.8,259.4 273.1,307 273.4,279.3 273.7,321 274,289.3 274.3,326.7 274.6,289.7 274.9,328.1 275.2,287.8 275.5,326.3 275.8,289.3 276.1,331.1 276.4,292.9 276.7,332 277,290.8 277.3,332 277.6,296.7 277.9,333.3 278.2,295.3 278.5,329.8 278.8,294.8 279.1,335 279.4,306.6 279.7,336.5 280,302.4 280.3,333.4 280.6,297.3 280.9,335.1 281.2,306.5 281.5,338.8 281.8,301.9 282.1,339 282.4,307.3 282.7,343.9 283,305.8 283.3,339.7 283.6,311.3 283.9,345.7 284.2,303.8 284.5,346.4 284.8,312.1 285.1,348.5 285.4,307.4 285.7,345.3 286,312.9 286.3,348.5 286.6,318.1 286.9,353.8 287.2,314.5 287.5,345.6 287.8,314.5 288.1,358.5 288.4,319.2 288.7,358.6 289,320.2 289.3,358.9 289.6,326.2 289.9,363.8 290.2,323.4 290.5,355.4 290.8,332.4 291.1,365.7 291.4,328.3 291.7,367.3 292,331.5 292.3,365.7 292.6,335.8 292.9,371.1 293.2,336.1 293.5,371 293.8,336.3 294.1,367 294.4,338.8 294.7,368.1 295,342.6 295.3,364 295.6,332 295.9,372.7 296.2,337.2 296.5,373.7 296.8,332 297.1,374 297.4,334.4 297.7,375 298,309 298.3,375.9 298.6,334.5 298.9,377.1 299.2,335.3 299.5,379.3 299.8,335 300.1,376.5 300.4,339.4 300.7,380.3 301,338.7 301.3,378.2 301.6,340.2 301.9,380.1 302.2,339.7 302.5,371.5 302.8,345.1 303.1,376.1 303.4,330.2 303.7,376.4 304,342.2 304.3,382.3 304.6,341.5 304.9,377.3 305.2,340.4 305.5,379.4 305.8,349.5 306.1,375.8 306.4,341.9 306.7,382 307,341.2 307.3,383.1 307.6,342 307.9,375.3 308.2,346.1 308.5,383.9 308.8,344.7 309.1,385.3 309.4,342.7 309.7,381.4 310,346.5 310.3,383.4 310.6,349.7 310.9,378.7 311.2,344.3 311.5,382.3 311.8,348.2 312.1,382.5 312.4,349.9 312.7,386 313,343.6 313.3,387.2 313.6,342.9 313.9,384.4 314.2,341.6 314.5,387.5 314.8,344.8 315.1,386.4 315.4,342.9 315.7,388.3 316,348.7 316.3,387.4 316.6,349.2 316.9,390.2 317.2,341.8 317.5,388.8 317.8,353.7 318.1,389.9 318.4,349.4 318.7,387.2 319,346 319.3,380.5 319.6,344.3 319.9,391.1 320.2,350.1 320.5,392.4 320.8,342.3 321.1,390.6 321.4,350.8 321.7,390.6 322,346.5 322.3,390.1 322.6,342.3 322.9,391.4 323.2,351.5 323.5,385.8 323.8,348.1 324.1,385.4 324.4,344 324.7,386.8 325,344.5 325.3,394.5 325.6,353.2 325.9,393.1 326.2,346.2 326.5,395.9 326.8,346.9 327.1,389.1 327.4,324.5 327.7,383.9 328,343.7 328.3,394.5 328.6,349.6 328.9,395 329.2,346.4 329.5,397.2 329.8,343.6 330.1,396.4 330.4,343.9 330.7,397 331,344.1 331.3,396.8 331.6,346.2 331.9,396 332.2,343.7 332.5,390.9 332.8,342.3 333.1,398.7 333.4,345.8 333.7,388.9 334,348.6 334.3,395.2 334.6,346 334.9,397.9 335.2,343.4 335.5,387.8 335.8,328.1 336.1,392.1 336.4,344 336.7,399.7 337,343.1 337.3,399.9 337.6,337.6 337.9,392.5 338.2,352.6 338.5,395.5 338.8,348.9 339.1,394 339.4,345.6 339.7,399.9 340,343.1 340.3,388.2 340.6,348 340.9,395.1 341.2,343.8 341.5,388.6 341.8,340.7 342.1,388.1 342.4,354.4 342.7,394.3 343,347.3 343.3,395.6 343.6,345 343.9,388.5 344.2,347.3 344.5,399.2 344.8,346.5 345.1,395.8 345.4,348.3 345.7,399.2 346,355.3 346.3,398.5" fill="none" stroke="#EE7800" stroke-width="1.0" stroke-linejoin="bevel"/>
<polyline points="125,394.5 125.3,343.7 125.6,386.3 125.9,344.8 126.2,394.7 126.5,353.7 126.8,396.7 127.1,339.4 127.4,383.7 127.7,332.6 128,388.1 128.3,332.3 128.6,387.2 128.9,340.6 129.2,396.6 129.5,338.2 129.8,394 130.1,346.9 130.4,390.8 130.7,345.4 131,396 131.3,345 131.6,392.4 131.9,329.9 132.2,385.8 132.5,343.6 132.8,393.9 133.1,343.2 133.4,392.9 133.7,341.3 134,383.4 134.3,339.9 134.6,392.5 134.9,339.2 135.2,385.2 135.5,337.9 135.8,393.7 136.1,338.3 136.4,394.2 136.7,340.7 137,388.5 137.3,350.1 137.6,391.8 137.9,340.5 138.2,391.1 138.5,353.8 138.8,393.3 139.1,343 139.4,381.6 139.7,337.5 140,391.2 140.3,341.3 140.6,391.1 140.9,335.1 141.2,389.9 141.5,339.9 141.8,385.7 142.1,339.6 142.4,382.2 142.7,345.1 143,383 143.3,341.4 143.6,387.9 143.9,340.8 144.2,388.9 144.5,337 144.8,379.4 145.1,340.5 145.4,388 145.7,342.2 146,386.8 146.3,347.4 146.6,379.8 146.9,330.9 147.2,383.9 147.5,345.7 147.8,387.7 148.1,343.5 148.4,377.2 148.7,339.6 149,384.3 149.3,346.4 149.6,384.7 149.9,342 150.2,386.6 150.5,341.3 150.8,384.3 151.1,338.4 151.4,382.9 151.7,343.2 152,384.2 152.3,341.3 152.6,381.7 152.9,336.4 153.2,382.4 153.5,342.4 153.8,384.2 154.1,336.6 154.4,380.4 154.7,336.9 155,377.8 155.3,340.4 155.6,378.9 155.9,340.8 156.2,377.3 156.5,337.2 156.8,378.6 157.1,340.9 157.4,379.5 157.7,338.4 158,377.9 158.3,336.7 158.6,378.8 158.9,334.7 159.2,375.6 159.5,337.2 159.8,379.4 160.1,339.5 160.4,375.1 160.7,337 161,379 161.3,343.3 161.6,376.4 161.9,336.5 162.2,376.3 162.5,332.3 162.8,365.9 163.1,332.3 163.4,376.8 163.7,335.7 164,374.6 164.3,330.5 164.6,372.3 164.9,334.8 165.2,375 165.5,333 165.8,369.5 166.1,330.3 166.4,370.3 166.7,337.8 167,363 167.3,330.2 167.6,368.6 167.9,329 168.2,366.3 168.5,328.5 168.8,370.9 169.1,335.1 169.4,364.8 169.7,324.8 170,368.1 170.3,332.1 170.6,366.8 170.9,325.3 171.2,365.3 171.5,326.8 171.8,354.8 172.1,317.7 172.4,365.9 172.7,325.2 173,362.1 173.3,321.1 173.6,358.1 173.9,331.8 174.2,360.3 174.5,328.7 174.8,357.1 175.1,320.3 175.4,354.7 175.7,318.7 176,358.2 176.3,324.9 176.6,356.3 176.9,323.8 177.2,357.4 177.5,321.6 177.8,359.5 178.1,316.3 178.4,356.4 178.7,320.1 179,356.8 179.3,322.7 179.6,357.6 179.9,317.6 180.2,344.2 180.5,318 180.8,348.2 181.1,319.5 181.4,347.5 181.7,311.3 182,348.2 182.3,311.4 182.6,341.8 182.9,309.2 183.2,342.5 183.5,309.1 183.8,340.3 184.1,306.1 184.4,338.6 184.7,312.7 185,340.7 185.3,303.9 185.6,337.9 185.9,305.7 186.2,333.8 186.5,299.8 186.8,334.8 187.1,302.7 187.4,330.9 187.7,302.1 188,336.8 188.3,302.3 188.6,327 188.9,295.1 189.2,331 189.5,299.7 189.8,329.7 190.1,300.6 190.4,325.5 190.7,294.6 191,324.2 191.3,285.8 191.6,317.9 191.9,287 192.2,324.7 192.5,256.8 192.8,319.9 193.1,287.8 193.4,321.1 193.7,280.7 194,318.2 194.3,281.6 194.6,320.9 194.9,280.3 195.2,318.5 195.5,273.7 195.8,311.7 196.1,276.7 196.4,309.2 196.7,276 197,298.9 197.3,261.6 197.6,297.4 197.9,258.1 198.2,292.2 198.5,258.8 198.8,292 199.1,246.6 199.4,284 199.7,240.7 200,277 200.3,235.8 200.6,268.1 200.9,223.4 201.2,258.3 201.5,219.1 201.8,249.8 202.1,209.5 202.4,246.4 202.7,202 203,237.2 203.3,193.7 203.6,233.8 203.9,187.9 204.2,223.9 204.5,182.7 204.8,177.4 205.1,183 205.4,228.4 205.7,188.7 206,235.1 206.3,197.4 206.6,238.2 206.9,204.7 207.2,252.1 207.5,216 207.8,250.2 208.1,221.7 208.4,265.6 208.7,231.4 209,277.6 209.3,239.3 209.6,286.3 209.9,249 210.2,288.9 210.5,252.1 210.8,296.5 211.1,259.3 211.4,302 211.7,264.1 212,304.7 212.3,267.9 212.6,310.3 212.9,272.8 213.2,312 213.5,285.8 213.8,315 214.1,281.5 214.4,318.9 214.7,279.3 215,314.4 215.3,286.3 215.6,323.6 215.9,282.2 216.2,320.3 216.5,291.5 216.8,326.8 217.1,286 217.4,328.1 217.7,286.7 218,323.1 218.3,289.5 218.6,330.3 218.9,290.4 219.2,332.9 219.5,301 219.8,334.4 220.1,293.8 220.4,328.6 220.7,294.7 221,330.3 221.3,294.3 221.6,336.8 221.9,295.7 222.2,337.8 222.5,296.6 222.8,334.5 223.1,299.9 223.4,341.4 223.7,300.3 224,340.5 224.3,300.8 224.6,339.3 224.9,302.3 225.2,344 225.5,304 225.8,343.1 226.1,313.2 226.4,350.3 226.7,309.6 227,351.2 227.3,315.3 227.6,351 227.9,314.1 228.2,349.2 228.5,322.8 228.8,353.4 229.1,319.4 229.4,356.8 229.7,322.6 230,359.2 230.3,321.5 230.6,361.3 230.9,329.6 231.2,359.7 231.5,323.9 231.8,364.5 232.1,325.1 232.4,360.5 232.7,325.2 233,366.3 233.3,330.5 233.6,361.2 233.9,334.2 234.2,368.1 234.5,325.7 234.8,367.6 235.1,325.6 235.4,369.2 235.7,327.6 236,370.3 236.3,326.9 236.6,362.9 236.9,326.8 237.2,369.6 237.5,329.3 237.8,371.7 238.1,328.1 238.4,373.2 238.7,340.6 239,368.9 239.3,330.2 239.6,366.7 239.9,338.2 240.2,367.4 240.5,332.7 240.8,374.7 241.1,331.5 241.4,368.3 241.7,336.3 242,375.8 242.3,334.2 242.6,369.5 242.9,335.8 243.2,377 243.5,331.9 243.8,376.7 244.1,337 244.4,374.4 244.7,338.6 245,377.2 245.3,330.8 245.6,371.4 245.9,333.8 246.2,378.6 246.5,334.1 246.8,378.9 247.1,337.8 247.4,375.5 247.7,335.6 248,372.7 248.3,347.2 248.6,378.7 248.9,338.7 249.2,381 249.5,339.2 249.8,380.1 250.1,341.6 250.4,379.7 250.7,337.8 251,381.1 251.3,336.6 251.6,380.8 251.9,339.3 252.2,381.9 252.5,339.9 252.8,374 253.1,338.5 253.4,382.1 253.7,323 254,382 254.3,341.9 254.6,380.2 254.9,346.4 255.2,379.4 255.5,338 255.8,372.4 256.1,339.2 256.4,376.9 256.7,342.3 257,373.1 257.3,338 257.6,385.8 257.9,337.8 258.2,377.5 258.5,343.3 258.8,384.7 259.1,345 259.4,372.3 259.7,341.3 260,387.5 260.3,346.3 260.6,385.8 260.9,345.4 261.2,384.8 261.5,342.1 261.8,384.9 262.1,350.5 262.4,387.3 262.7,327 263,389 263.3,336.8 263.6,389.6 263.9,311.3 264.2,388.7 264.5,337.4 264.8,388.6 265.1,347 265.4,387.4 265.7,340.4 266,374.2 266.3,339.6 266.6,388.9 266.9,324.4 267.2,386.7 267.5,340.1 267.8,388.3 268.1,340.6 268.4,387.9 268.7,341.8 269,386.2 269.3,344.7 269.6,392.9 269.9,339 270.2,387.9 270.5,350 270.8,382.2 271.1,338.2 271.4,386 271.7,339.1 272,390.8 272.3,344.6 272.6,391.4 272.9,341 273.2,394.1 273.5,352.7 273.8,391.4 274.1,352.6 274.4,390.8 274.7,338.8 275,393.4 275.3,346 275.6,387.6 275.9,343.3 276.2,394.8 276.5,329.1 276.8,387.5 277.1,349.7 277.4,388.7 277.7,340.5 278,388.4 278.3,342.3 278.6,389.1 278.9,340 279.2,391.1 279.5,340.9 279.8,392.5 280.1,340.9 280.4,396.7 280.7,345 281,395.7 281.3,339.3 281.6,391.9 281.9,343.2 282.2,393.4 282.5,352.8 282.8,390.4 283.1,340.6 283.4,393.3 283.7,339.2 284,396.6 284.3,339.6 284.6,386.2 284.9,339.9" fill="none" stroke="#E60A78" stroke-width="1.0" stroke-linejoin="bevel"/>
<line x1="556.2" y1="202.1" x2="556.2" y2="231" stroke="#444" stroke-width="1.1"/>
</g>
<line x1="556" y1="241.4" x2="582.1" y2="225.7" stroke="#000" stroke-width="1.3"/>
<text transform="translate(204 171) scale(1.07 1)" font-size="17.6" text-anchor="middle" fill="#E60A78" >700</text>
<text transform="translate(270.5 184.9) scale(1.07 1)" font-size="17.6" text-anchor="middle" fill="#EE7800" >680</text>
<text transform="translate(330.5 197.6) scale(1.07 1)" font-size="17.6" text-anchor="middle" fill="#007D7D" >660</text>
<text transform="translate(355.7 214.3) scale(1.07 1)" font-size="17.6" text-anchor="middle" fill="#007C34" >650</text>
<text transform="translate(384.5 226.9) scale(1.07 1)" font-size="17.6" text-anchor="middle" fill="#87140F" >640</text>
<text transform="translate(401.4 121.7) scale(1.07 1)" font-size="17.6" text-anchor="middle" fill="#871982" >630</text>
<text transform="translate(465.7 95.4) scale(1.07 1)" font-size="17.6" text-anchor="middle" fill="#878226" >600</text>
<text transform="translate(483.7 225) scale(1.07 1)" font-size="17.6" text-anchor="middle" fill="#BE4C96" >590</text>
<text transform="translate(497.7 162.9) scale(1.07 1)" font-size="17.6" text-anchor="middle" fill="#80CBE0" >580</text>
<text transform="translate(518.6 221.1) scale(1.07 1)" font-size="17.6" text-anchor="middle" fill="#3C4A99" >570</text>
<text transform="translate(533.6 154.6) scale(1.07 1)" font-size="17.6" text-anchor="middle" fill="#6EB52C" >560</text>
<text transform="translate(548.3 173.6) scale(1.07 1)" font-size="17.6" text-anchor="middle" fill="#E20A10" >550</text>
<text transform="translate(575 222.4) scale(1.03 1)" font-size="17.6" text-anchor="start" fill="#222" >540 mA</text>
<rect x="107.8" y="59.6" width="462.4" height="340" fill="none" stroke="#000" stroke-width="3.7"/>
<path d="M123.2 59.6L123.2 67.1M123.2 399.6L123.2 392.1M250.9 59.6L250.9 67.1M250.9 399.6L250.9 392.1M378.6 59.6L378.6 67.1M378.6 399.6L378.6 392.1M506.3 59.6L506.3 67.1M506.3 399.6L506.3 392.1M187 59.6L187 63.6M187 399.6L187 395.6M314.7 59.6L314.7 63.6M314.7 399.6L314.7 395.6M442.4 59.6L442.4 63.6M442.4 399.6L442.4 395.6M107.8 108.2L115.3 108.2M570.2 108.2L562.7 108.2M107.8 156.7L115.3 156.7M570.2 156.7L562.7 156.7M107.8 205.3L115.3 205.3M570.2 205.3L562.7 205.3M107.8 253.9L115.3 253.9M570.2 253.9L562.7 253.9M107.8 302.5L115.3 302.5M570.2 302.5L562.7 302.5M107.8 351L115.3 351M570.2 351L562.7 351M107.8 83.9L111.8 83.9M570.2 83.9L566.2 83.9M107.8 132.5L111.8 132.5M570.2 132.5L566.2 132.5M107.8 181L111.8 181M570.2 181L566.2 181M107.8 229.6L111.8 229.6M570.2 229.6L566.2 229.6M107.8 278.2L111.8 278.2M570.2 278.2L566.2 278.2M107.8 326.7L111.8 326.7M570.2 326.7L566.2 326.7M107.8 375.3L111.8 375.3M570.2 375.3L566.2 375.3" stroke="#000" stroke-width="3.0" stroke-linecap="round" fill="none"/>
<text transform="translate(94.3 68.1) scale(1.03 1)" font-size="28" text-anchor="end" fill="#000" >&#8211;50</text>
<text transform="translate(94.3 116.7) scale(1.03 1)" font-size="28" text-anchor="end" fill="#000" >&#8211;55</text>
<text transform="translate(94.3 165.2) scale(1.03 1)" font-size="28" text-anchor="end" fill="#000" >&#8211;60</text>
<text transform="translate(94.3 213.8) scale(1.03 1)" font-size="28" text-anchor="end" fill="#000" >&#8211;65</text>
<text transform="translate(94.3 262.4) scale(1.03 1)" font-size="28" text-anchor="end" fill="#000" >&#8211;70</text>
<text transform="translate(94.3 311) scale(1.03 1)" font-size="28" text-anchor="end" fill="#000" >&#8211;75</text>
<text transform="translate(94.3 359.5) scale(1.03 1)" font-size="28" text-anchor="end" fill="#000" >&#8211;80</text>
<text transform="translate(94.3 408.1) scale(1.03 1)" font-size="28" text-anchor="end" fill="#000" >&#8211;85</text>
<text transform="translate(123.2 437.6) scale(1.03 1)" font-size="28" text-anchor="middle" fill="#000" >15.06</text>
<text transform="translate(250.9 437.6) scale(1.03 1)" font-size="28" text-anchor="middle" fill="#000" >15.08</text>
<text transform="translate(378.6 437.6) scale(1.03 1)" font-size="28" text-anchor="middle" fill="#000" >15.10</text>
<text transform="translate(506.3 437.6) scale(1.03 1)" font-size="28" text-anchor="middle" fill="#000" >15.12</text>
<text x="338.8" y="482.8" font-size="29" text-anchor="middle" fill="#000" >Frequency (GHz)</text>
<text transform="translate(25 229) rotate(-90)" font-size="29" text-anchor="middle">Power (dBm)</text>
<path d="M820.5 329.8L822.4 328.8M842.9 316.4L846.2 314.2M863.2 317.1L872.3 329.8M888.4 331.7L893.4 327.4M960.8 315.8L1006.3 314.1M1020.8 301.9L1039 215.7M1045.2 192.6L1060.9 144.9M1096.5 127.7L1125.3 100.5M1146 90.7L1168.5 87.8" stroke="#E10C10" stroke-width="3.0" fill="none"/>
<circle cx="809.8" cy="335.4" r="8.6" fill="#E10C10"/>
<circle cx="833" cy="323.2" r="8.6" fill="#E10C10"/>
<circle cx="856.2" cy="307.4" r="8.6" fill="#E10C10"/>
<circle cx="879.3" cy="339.5" r="8.6" fill="#E10C10"/>
<circle cx="902.5" cy="319.6" r="8.6" fill="#E10C10"/>
<circle cx="925.6" cy="323.3" r="8.6" fill="#E10C10"/>
<circle cx="948.8" cy="316.3" r="8.6" fill="#E10C10"/>
<circle cx="1018.3" cy="313.6" r="8.6" fill="#E10C10"/>
<circle cx="1041.4" cy="204" r="8.6" fill="#E10C10"/>
<circle cx="1064.6" cy="133.5" r="8.6" fill="#E10C10"/>
<circle cx="1087.8" cy="135.9" r="8.6" fill="#E10C10"/>
<circle cx="1134.1" cy="92.3" r="8.6" fill="#E10C10"/>
<circle cx="1180.4" cy="86.2" r="8.6" fill="#E10C10"/>
<path d="M819.7 77.1L823.1 79.2M843.5 89.8L845.7 90.7M866 101.4L869.5 103.5M889.4 115.1L892.4 116.8M912.6 127.9L915.6 129.6M934.9 141.9L939.5 145.2M957.7 159.3L1009.4 202.3M1026.6 217.5L1033.1 223.7M1050.6 238.6L1055.5 242.4M1073.2 257L1079.1 262.2M1094.8 278.9L1127 320.2M1141.5 338.1L1172.9 374.9" stroke="#000" stroke-width="3.3" fill="none"/>
<rect x="802.5" y="63.9" width="14.7" height="14.7" fill="#000"/>
<rect x="825.6" y="77.8" width="14.7" height="14.7" fill="#000"/>
<rect x="848.8" y="88.1" width="14.7" height="14.7" fill="#000"/>
<rect x="872" y="102.2" width="14.7" height="14.7" fill="#000"/>
<rect x="895.1" y="115.1" width="14.7" height="14.7" fill="#000"/>
<rect x="918.3" y="127.8" width="14.7" height="14.7" fill="#000"/>
<rect x="941.4" y="144.7" width="14.7" height="14.7" fill="#000"/>
<rect x="1010.9" y="202.2" width="14.7" height="14.7" fill="#000"/>
<rect x="1034.1" y="224.2" width="14.7" height="14.7" fill="#000"/>
<rect x="1057.2" y="242.1" width="14.7" height="14.7" fill="#000"/>
<rect x="1080.4" y="262.4" width="14.7" height="14.7" fill="#000"/>
<rect x="1126.7" y="321.9" width="14.7" height="14.7" fill="#000"/>
<rect x="1173.1" y="376.3" width="14.7" height="14.7" fill="#000"/>
<line x1="783" y1="299.1" x2="844.3" y2="299.1" stroke="#E85A5E" stroke-width="1.5"/>
<polygon points="774.1,299.1 784.5,295.9 784.5,302.3" fill="#E10C10"/>
<line x1="1117" y1="293.3" x2="1204" y2="293.3" stroke="#000" stroke-width="1.35"/>
<polygon points="1212.5,293.3 1202.5,290.5 1202.5,296.1" fill="#000"/>
<rect x="764.3" y="58.4" width="463" height="340.6" fill="none" stroke="#000" stroke-width="3.7"/>
<path d="M833 58.4L833 65.9M833 399L833 391.5M948.8 58.4L948.8 65.9M948.8 399L948.8 391.5M1064.6 58.4L1064.6 65.9M1064.6 399L1064.6 391.5M1180.4 58.4L1180.4 65.9M1180.4 399L1180.4 391.5M775.1 58.4L775.1 62.4M775.1 399L775.1 395M890.9 58.4L890.9 62.4M890.9 399L890.9 395M1006.7 58.4L1006.7 62.4M1006.7 399L1006.7 395M1122.5 58.4L1122.5 62.4M1122.5 399L1122.5 395M764.3 228.7L771.8 228.7M764.3 347.7L768.3 347.7M764.3 317.7L768.3 317.7M764.3 296.5L768.3 296.5M764.3 280L768.3 280M764.3 266.5L768.3 266.5M764.3 255.1L768.3 255.1M764.3 245.2L768.3 245.2M764.3 236.5L768.3 236.5M764.3 177.4L768.3 177.4M764.3 147.4L768.3 147.4M764.3 126.2L768.3 126.2M764.3 109.7L768.3 109.7M764.3 96.2L768.3 96.2M764.3 84.8L768.3 84.8M764.3 74.9L768.3 74.9M764.3 66.2L768.3 66.2M1227.3 342.7L1219.8 342.7M1227.3 229.1L1219.8 229.1M1227.3 115.4L1219.8 115.4M1227.3 285.9L1223.3 285.9M1227.3 172.2L1223.3 172.2" stroke="#000" stroke-width="3.0" stroke-linecap="round" fill="none"/>
<text x="741" y="69.1" font-size="27.5" text-anchor="end" fill="#000" >10</text>
<text x="742.2" y="57.1" font-size="18.3" text-anchor="start" fill="#000" >6</text>
<text x="741" y="239.4" font-size="27.5" text-anchor="end" fill="#000" >10</text>
<text x="742.2" y="227.4" font-size="18.3" text-anchor="start" fill="#000" >5</text>
<text x="741" y="409.7" font-size="27.5" text-anchor="end" fill="#000" >10</text>
<text x="742.2" y="397.7" font-size="18.3" text-anchor="start" fill="#000" >4</text>
<text transform="translate(833 437.6) scale(1.03 1)" font-size="28" text-anchor="middle" fill="#000" >550</text>
<text transform="translate(948.8 437.6) scale(1.03 1)" font-size="28" text-anchor="middle" fill="#000" >600</text>
<text transform="translate(1064.6 437.6) scale(1.03 1)" font-size="28" text-anchor="middle" fill="#000" >650</text>
<text transform="translate(1180.4 437.6) scale(1.03 1)" font-size="28" text-anchor="middle" fill="#000" >700</text>
<text transform="translate(1236 350.3) scale(1.03 1)" font-size="28" text-anchor="start" fill="#000" >15.08</text>
<text transform="translate(1236 236.7) scale(1.03 1)" font-size="28" text-anchor="start" fill="#000" >15.10</text>
<text transform="translate(1236 123) scale(1.03 1)" font-size="28" text-anchor="start" fill="#000" >15.12</text>
<text transform="translate(776.2 385.6) scale(1.02 1)" font-size="24.3" text-anchor="start" fill="#000" >RBW: 30 kHz</text>
<text transform="translate(995 482.9) scale(1.012 1)" font-size="29" text-anchor="middle" fill="#000" >Current (mA)</text>
<text transform="translate(694 229.2) rotate(-90)" font-size="29" text-anchor="middle">Linewidth (Hz)</text>
<text transform="translate(1346 228.5) rotate(-90)" font-size="29" text-anchor="middle">Frequency (GHz)</text>
<clipPath id="cc"><rect x="1513.2" y="47.2" width="478.29999999999995" height="353.2"/></clipPath>
<polyline clip-path="url(#cc)" points="1513.1,326.9 1514.3,297.5 1515.5,280 1516.7,335.6 1517.9,282.3 1519.1,357 1520.3,299.4 1521.5,328.8 1522.7,275.5 1523.9,294.7 1525.1,322.5 1526.3,295.7 1527.5,305 1528.7,320 1529.9,400 1531.1,367 1532.3,320.4 1533.5,293.6 1534.7,309.3 1535.9,295.8 1537.1,298.3 1538.3,286.9 1539.5,336 1540.7,310 1541.9,315.4 1543,304.6 1544.2,287.1 1545.4,299.9 1546.6,336 1547.8,282 1549,336 1550.2,386.4 1551.4,336 1552.6,311.8 1553.8,322.8 1555,336 1556.2,318.4 1557.4,286.2 1558.6,328.5 1559.8,336 1561,320.8 1562.2,311.1 1563.4,306.6 1564.6,316.7 1565.8,325.7 1567,295 1568.2,300.6 1569.4,335.3 1570.6,336 1571.8,314.6 1572.9,277.9 1574.1,355.7 1575.3,319.6 1576.5,288.4 1577.7,313.9 1578.9,273.6 1580.1,336 1581.3,336 1582.5,344.3 1583.7,316.5 1584.9,302 1586.1,283.2 1587.3,290.1 1588.5,336 1589.7,336 1590.9,291.5 1592.1,349.3 1593.3,311.5 1594.5,271.4 1595.7,317.4 1596.9,299.7 1598.1,352 1599.3,296.5 1600.5,297.9 1601.7,280.7 1602.8,330.4 1604,336 1605.2,314.3 1606.4,336 1607.6,316.3 1608.8,290.8 1610,348.6 1611.2,291.9 1612.4,331.3 1613.6,293.7 1614.8,290.2 1616,276.7 1617.2,293.6 1618.4,336 1619.6,270.3 1620.8,334 1622,312.7 1623.2,287.7 1624.4,380 1625.6,311.2 1626.8,336 1628,310.1 1629.2,319.9 1630.4,288.7 1631.6,336 1632.8,290.3 1633.9,269.3 1635.1,317.6 1636.3,336 1637.5,380.7 1638.7,291.2 1639.9,297.5 1641.1,330.6 1642.3,336 1643.5,284.6 1644.7,276.6 1645.9,336 1647.1,298.1 1648.3,282.6 1649.5,357 1650.7,316.4 1651.9,294.2 1653.1,266.4 1654.3,339 1655.5,336 1656.7,281.2 1657.9,289.8 1659.1,330.5 1660.3,274.3 1661.5,309.8 1662.6,280.7 1663.8,293.9 1665,372.9 1666.2,273.6 1667.4,336 1668.6,273.4 1669.8,308.6 1671,323.8 1672.2,323.7 1673.4,297.6 1674.6,336 1675.8,263.6 1677,304.5 1678.2,278.2 1679.4,318.2 1680.6,336 1681.8,336 1683,286 1684.2,302.8 1685.4,328.9 1686.6,271.4 1687.8,336 1689,356.4 1690.2,275.2 1691.4,336 1692.5,333.2 1693.7,305.8 1694.9,287.5 1696.1,285.3 1697.3,305.2 1698.5,329.4 1699.7,277.4 1700.9,299.7 1702.1,328.6 1703.3,362 1704.5,336 1705.7,299.3 1706.9,336 1708.1,344 1709.3,336 1710.5,290.5 1711.7,322.8 1712.9,280.5 1714.1,346 1715.3,301.4 1716.5,309.3 1717.7,289.4 1718.9,303.9 1720.1,288.8 1721.3,317.8 1722.4,320.8 1723.6,305.3 1724.8,336 1726,327.4 1727.2,313.3 1728.4,269.3 1729.6,289.3 1730.8,294.1 1732,309.3 1733.2,292.6 1734.4,327.3 1735.6,332.3 1736.8,303.5 1738,287.2 1739.2,296.1 1740.4,263.2 1741.6,314.9 1742.8,286.7 1744,361.8 1745.2,310.2 1746.4,272.6 1747.6,263.2 1748.8,246.8 1750,202.2 1751.2,159.9 1752.3,94.2 1753.5,150.5 1754.7,178.7 1755.9,215.3 1757.1,232.7 1758.3,240.7 1759.5,250.5 1760.7,272.6 1761.9,249.1 1763.1,282 1764.3,258.5 1765.5,282 1766.7,228.9 1767.9,291.4 1769.1,272.6 1770.3,300.8 1771.5,286.7 1772.7,310.2 1773.9,269.3 1775.1,300.8 1776.3,336 1777.5,284.8 1778.7,296.6 1779.9,336 1781.1,294 1782.2,361.4 1783.4,324 1784.6,273.6 1785.8,312.8 1787,307.3 1788.2,336 1789.4,263 1790.6,336 1791.8,298.9 1793,263 1794.2,305.9 1795.4,307.8 1796.6,291.2 1797.8,370 1799,294.8 1800.2,319.4 1801.4,351.4 1802.6,272.6 1803.8,323.9 1805,316.7 1806.2,308 1807.4,313 1808.6,256.6 1809.8,293.2 1811,382.1 1812.1,294.2 1813.3,292.6 1814.5,268.6 1815.7,287.8 1816.9,382.9 1818.1,321.5 1819.3,313.6 1820.5,299.2 1821.7,371.4 1822.9,293.5 1824.1,271.3 1825.3,316.5 1826.5,306.8 1827.7,336 1828.9,354.3 1830.1,319.3 1831.3,325.8 1832.5,323.3 1833.7,259.4 1834.9,311.9 1836.1,292.1 1837.3,358.6 1838.5,290 1839.7,286.8 1840.9,267.7 1842,336 1843.2,338.6 1844.4,336 1845.6,278.7 1846.8,336 1848,336 1849.2,300.3 1850.4,270.3 1851.6,286.3 1852.8,293.9 1854,296.6 1855.2,319.9 1856.4,400 1857.6,279.6 1858.8,282.3 1860,281 1861.2,296.2 1862.4,294.4 1863.6,320.9 1864.8,336 1866,336 1867.2,318.7 1868.4,349.3 1869.6,290.2 1870.8,322.9 1871.9,299.1 1873.1,336 1874.3,288.7 1875.5,348.6 1876.7,299.4 1877.9,275.9 1879.1,320 1880.3,298.2 1881.5,313.3 1882.7,291.8 1883.9,377.1 1885.1,325.7 1886.3,293 1887.5,299.9 1888.7,330.3 1889.9,295.4 1891.1,275.9 1892.3,285.8 1893.5,308.4 1894.7,359.3 1895.9,306.5 1897.1,336 1898.3,303.8 1899.5,305 1900.7,362.9 1901.8,320.3 1903,268.6 1904.2,291 1905.4,336 1906.6,310.9 1907.8,292.8 1909,400 1910.2,316.3 1911.4,336 1912.6,281.4 1913.8,308.7 1915,292.2 1916.2,362 1917.4,310.6 1918.6,313.8 1919.8,324 1921,302.2 1922.2,271.3 1923.4,294 1924.6,336 1925.8,293.1 1927,290.9 1928.2,369.3 1929.4,278.7 1930.6,336 1931.8,291.9 1932.9,375 1934.1,301.8 1935.3,329.2 1936.5,325.8 1937.7,281 1938.9,336 1940.1,286.9 1941.3,306.8 1942.5,359.3 1943.7,336 1944.9,296.1 1946.1,336 1947.3,322.8 1948.5,280.5 1949.7,303.4 1950.9,282.4 1952.1,294.9 1953.3,282.2 1954.5,298.3 1955.7,290.3 1956.9,318.3 1958.1,350.7 1959.3,297.6 1960.5,332.2 1961.6,319.6 1962.8,336 1964,293.1 1965.2,392.9 1966.4,304.9 1967.6,316.4 1968.8,336 1970,277.8 1971.2,293.3 1972.4,324.8 1973.6,322.4 1974.8,327.5 1976,400 1977.2,307.1 1978.4,294 1979.6,371.4 1980.8,299.8 1982,297.6 1983.2,336 1984.4,307.8 1985.6,314.4 1986.8,336 1988,287.5 1989.2,264.9 1990.4,336 1991.5,311.8" fill="none" stroke="#E10C10" stroke-width="2.8" stroke-linejoin="round"/>
<rect x="1513.2" y="47.2" width="478.3" height="352.2" fill="none" stroke="#000" stroke-width="3.7"/>
<path d="M1561 47.2L1561 54.7M1561 399.4L1561 391.9M1608.8 47.2L1608.8 54.7M1608.8 399.4L1608.8 391.9M1656.7 47.2L1656.7 54.7M1656.7 399.4L1656.7 391.9M1704.5 47.2L1704.5 54.7M1704.5 399.4L1704.5 391.9M1752.3 47.2L1752.3 54.7M1752.3 399.4L1752.3 391.9M1800.2 47.2L1800.2 54.7M1800.2 399.4L1800.2 391.9M1848 47.2L1848 54.7M1848 399.4L1848 391.9M1895.9 47.2L1895.9 54.7M1895.9 399.4L1895.9 391.9M1943.7 47.2L1943.7 54.7M1943.7 399.4L1943.7 391.9M1537.1 47.2L1537.1 51.2M1537.1 399.4L1537.1 395.4M1584.9 47.2L1584.9 51.2M1584.9 399.4L1584.9 395.4M1632.8 47.2L1632.8 51.2M1632.8 399.4L1632.8 395.4M1680.6 47.2L1680.6 51.2M1680.6 399.4L1680.6 395.4M1728.4 47.2L1728.4 51.2M1728.4 399.4L1728.4 395.4M1776.3 47.2L1776.3 51.2M1776.3 399.4L1776.3 395.4M1824.1 47.2L1824.1 51.2M1824.1 399.4L1824.1 395.4M1871.9 47.2L1871.9 51.2M1871.9 399.4L1871.9 395.4M1919.8 47.2L1919.8 51.2M1919.8 399.4L1919.8 395.4M1967.6 47.2L1967.6 51.2M1967.6 399.4L1967.6 395.4M1513.2 70.7L1520.7 70.7M1991.5 70.7L1984 70.7M1513.2 117.6L1520.7 117.6M1991.5 117.6L1984 117.6M1513.2 164.6L1520.7 164.6M1991.5 164.6L1984 164.6M1513.2 211.6L1520.7 211.6M1991.5 211.6L1984 211.6M1513.2 258.5L1520.7 258.5M1991.5 258.5L1984 258.5M1513.2 305.5L1520.7 305.5M1991.5 305.5L1984 305.5M1513.2 352.4L1520.7 352.4M1991.5 352.4L1984 352.4M1513.2 94.2L1517.2 94.2M1991.5 94.2L1987.5 94.2M1513.2 141.1L1517.2 141.1M1991.5 141.1L1987.5 141.1M1513.2 188.1L1517.2 188.1M1991.5 188.1L1987.5 188.1M1513.2 235L1517.2 235M1991.5 235L1987.5 235M1513.2 282L1517.2 282M1991.5 282L1987.5 282M1513.2 329L1517.2 329M1991.5 329L1987.5 329M1513.2 375.9L1517.2 375.9M1991.5 375.9L1987.5 375.9" stroke="#000" stroke-width="3.0" stroke-linecap="round" fill="none"/>
<text transform="translate(1498.6 79.2) scale(1.02 1)" font-size="28" text-anchor="end" fill="#000" >&#8211;50</text>
<text transform="translate(1498.6 126.1) scale(1.02 1)" font-size="28" text-anchor="end" fill="#000" >&#8211;60</text>
<text transform="translate(1498.6 173.1) scale(1.02 1)" font-size="28" text-anchor="end" fill="#000" >&#8211;70</text>
<text transform="translate(1498.6 220.1) scale(1.02 1)" font-size="28" text-anchor="end" fill="#000" >&#8211;80</text>
<text transform="translate(1498.6 267) scale(1.02 1)" font-size="28" text-anchor="end" fill="#000" >&#8211;90</text>
<text transform="translate(1498.6 314) scale(1.02 1)" font-size="28" text-anchor="end" fill="#000" >&#8211;100</text>
<text transform="translate(1498.6 360.9) scale(1.02 1)" font-size="28" text-anchor="end" fill="#000" >&#8211;110</text>
<text transform="translate(1498.6 407.9) scale(1.02 1)" font-size="28" text-anchor="end" fill="#000" >&#8211;120</text>
<text transform="translate(1513.1 438.2) scale(1.05 1)" font-size="24" text-anchor="middle" fill="#000" >&#8211;50</text>
<text transform="translate(1561 438.2) scale(1.05 1)" font-size="24" text-anchor="middle" fill="#000" >&#8211;40</text>
<text transform="translate(1608.8 438.2) scale(1.05 1)" font-size="24" text-anchor="middle" fill="#000" >&#8211;30</text>
<text transform="translate(1656.7 438.2) scale(1.05 1)" font-size="24" text-anchor="middle" fill="#000" >&#8211;20</text>
<text transform="translate(1704.5 438.2) scale(1.05 1)" font-size="24" text-anchor="middle" fill="#000" >&#8211;10</text>
<text transform="translate(1752.3 438.2) scale(1.05 1)" font-size="24" text-anchor="middle" fill="#000" >0</text>
<text transform="translate(1800.2 438.2) scale(1.05 1)" font-size="24" text-anchor="middle" fill="#000" >10</text>
<text transform="translate(1848 438.2) scale(1.05 1)" font-size="24" text-anchor="middle" fill="#000" >20</text>
<text transform="translate(1895.9 438.2) scale(1.05 1)" font-size="24" text-anchor="middle" fill="#000" >30</text>
<text transform="translate(1943.7 438.2) scale(1.05 1)" font-size="24" text-anchor="middle" fill="#000" >40</text>
<text transform="translate(1991.5 438.2) scale(1.05 1)" font-size="24" text-anchor="middle" fill="#000" >50</text>
<text x="1751.7" y="482.8" font-size="29" text-anchor="middle" fill="#000" >Frequency (kHz)</text>
<text transform="translate(1419.5 222.4) rotate(-90)" font-size="29" text-anchor="middle">Power (dBm)</text>
<text transform="translate(1647.2 78.9) scale(1.031 1)" font-size="24.4" text-anchor="start" fill="#000" >Linewidth: 287 Hz</text>
<text transform="translate(1834 106.1) scale(1.024 1)" font-size="24.4" text-anchor="start" fill="#000" >Center freq</text>
<text transform="translate(1835.5 135.4) scale(1.013 1)" font-size="24.4" text-anchor="start" fill="#000" >15.1255 GHz</text>
<text transform="translate(1843 225) scale(1.014 1)" font-size="24.4" text-anchor="start" fill="#000" ><tspan font-style="italic">I</tspan> = 550 mA</text>
<text transform="translate(1842 254.7) scale(1.027 1)" font-size="24.4" text-anchor="start" fill="#000" >RBW: 51 Hz</text>
<line x1="1716.4" y1="110.4" x2="1740" y2="110.4" stroke="#000" stroke-width="1.3"/>
<polygon points="1747.3,110.4 1738.5,107.8 1738.5,113" fill="#000"/>
<line x1="1763" y1="110.4" x2="1786.9" y2="110.4" stroke="#000" stroke-width="1.3"/>
<polygon points="1755.8,110.4 1764.6,107.8 1764.6,113" fill="#000"/>
<text transform="translate(0.3 35.9) scale(0.9 1)" font-size="46" text-anchor="start" fill="#000" font-weight="bold">A</text>
<text transform="translate(669.8 35.7) scale(0.845 1)" font-size="46" text-anchor="start" fill="#000" font-weight="bold">B</text>
<text transform="translate(1395.2 35.7) scale(0.9 1)" font-size="46" text-anchor="start" fill="#000" font-weight="bold">C</text>
</svg>
</body></html>
